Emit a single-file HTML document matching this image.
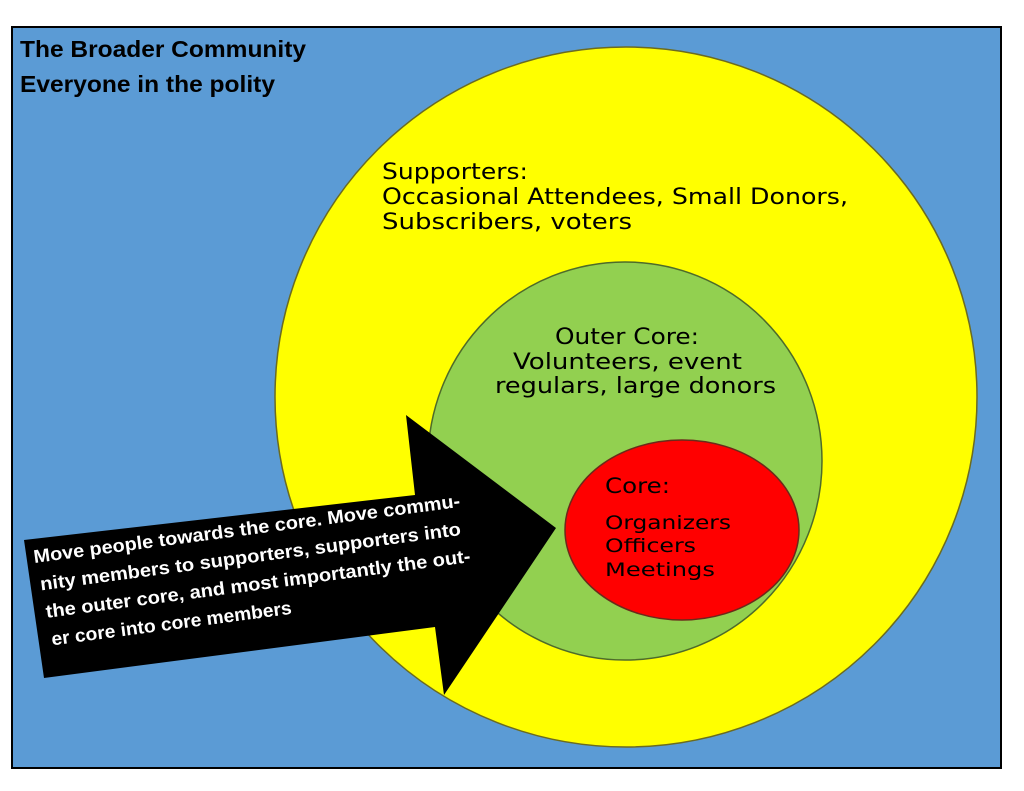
<!DOCTYPE html>
<html><head><meta charset="utf-8"><style>
html,body{margin:0;padding:0;background:#fff;}
svg{display:block}
</style></head><body>
<svg width="1024" height="791" viewBox="0 0 1024 791" xmlns="http://www.w3.org/2000/svg">
<rect x="0" y="0" width="1024" height="791" fill="#fff"/>
<rect x="12" y="27" width="989" height="741" fill="#5b9bd5" stroke="#000" stroke-width="2"/>
<text x="20" y="57" font-family="Liberation Sans, sans-serif" font-weight="bold" font-size="23" fill="#000" textLength="286" lengthAdjust="spacingAndGlyphs">The Broader Community</text>
<text x="20" y="92" font-family="Liberation Sans, sans-serif" font-weight="bold" font-size="23" fill="#000" textLength="255" lengthAdjust="spacingAndGlyphs">Everyone in the polity</text>
<ellipse cx="626" cy="397" rx="351" ry="350" fill="#ffff00" stroke="#6b6b20" stroke-width="1.5"/>
<ellipse cx="625" cy="461" rx="197" ry="199" fill="#92d050" stroke="#4e6b2a" stroke-width="1.5"/>
<ellipse cx="682" cy="530" rx="117" ry="90" fill="#ff0000" stroke="#6b2a1a" stroke-width="1.5"/>
<g font-family="DejaVu Sans, sans-serif" font-size="22" fill="#000">
<text x="382" y="179" textLength="146" lengthAdjust="spacingAndGlyphs">Supporters:</text>
<text x="382" y="204" textLength="466" lengthAdjust="spacingAndGlyphs">Occasional Attendees, Small Donors,</text>
<text x="382" y="229" textLength="250" lengthAdjust="spacingAndGlyphs">Subscribers, voters</text>
<text x="555" y="344" textLength="144" lengthAdjust="spacingAndGlyphs">Outer Core:</text>
<text x="513" y="369" textLength="229" lengthAdjust="spacingAndGlyphs">Volunteers, event</text>
<text x="495" y="393" textLength="281" lengthAdjust="spacingAndGlyphs">regulars, large donors</text>
<text x="605" y="493" font-size="21" textLength="65" lengthAdjust="spacingAndGlyphs">Core:</text>
<text x="605" y="529" font-size="19" textLength="126" lengthAdjust="spacingAndGlyphs">Organizers</text>
<text x="605" y="552" font-size="19" textLength="91" lengthAdjust="spacingAndGlyphs">Officers</text>
<text x="605" y="576" font-size="19" textLength="110" lengthAdjust="spacingAndGlyphs">Meetings</text>
</g>
<polygon points="24,540 415,495 406,415 556,528 444,695 435,627 44,678" fill="#000"/>
<g transform="rotate(-7.5 34 560)" font-family="Liberation Sans, sans-serif" font-weight="bold" font-size="18.5" fill="#fff">
<text x="34" y="563" textLength="430" lengthAdjust="spacingAndGlyphs">Move people towards the core. Move commu-</text>
<text x="37" y="591" textLength="424" lengthAdjust="spacingAndGlyphs">nity members to supporters, supporters into</text>
<text x="39" y="619" textLength="428" lengthAdjust="spacingAndGlyphs">the outer core, and most importantly the out-</text>
<text x="41" y="647" textLength="242" lengthAdjust="spacingAndGlyphs">er core into core members</text>
</g>
</svg>
</body></html>
